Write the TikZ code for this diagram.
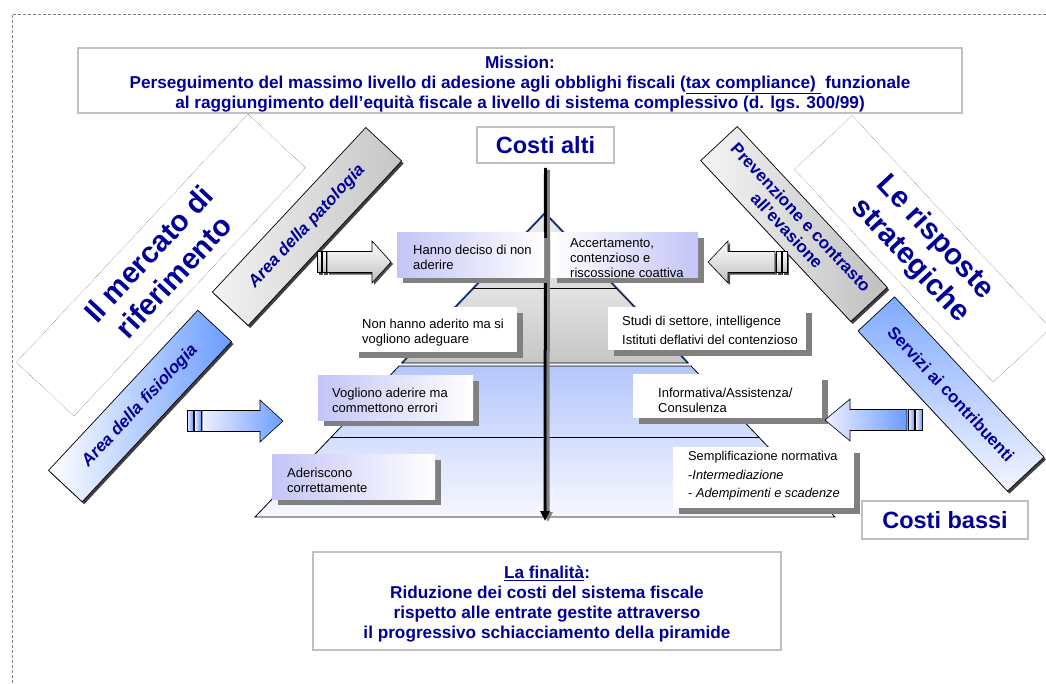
\documentclass[tikz,border=0pt]{standalone}
\usepackage{fontspec}
\setmainfont{Liberation Sans}
\usetikzlibrary{arrows.meta,shadows}

\definecolor{navy}{RGB}{0,0,153}
\definecolor{lav}{RGB}{196,196,248}
\definecolor{barblue}{RGB}{106,156,255}
\definecolor{framegray}{RGB}{192,192,192}
\definecolor{cardshade}{RGB}{128,128,128}
\definecolor{pyrblue}{RGB}{180,198,250}
\definecolor{edgeblue}{RGB}{110,140,215}

% block arrow with a striped tail:
% #1 tail x, #2 body start x, #3 head base x, #4 tip x, #5 centre y, #6 path style
\newcommand\blockarrow[6]{%
  \path[#6] (#2,#5-10.5) -- (#3,#5-10.5) -- (#3,#5-21) -- (#4,#5)
     -- (#3,#5+21) -- (#3,#5+10.5) -- (#2,#5+10.5) -- cycle;
  \path[#6] (#1,#5-10.5) rectangle ({#1+0.42*(#2-#1)},#5+10.5);
  \path[#6] ({#1+0.5*(#2-#1)},#5-10.5) rectangle ({#1+0.92*(#2-#1)},#5+10.5);
}

\begin{document}
\begin{tikzpicture}[x=1pt,y=-1pt,
  frame/.style={draw=framegray,line width=1.5,fill=white,inner sep=0},
  headline/.style={inner sep=0,text=navy,font=\bfseries\fontsize{17.2}{20}\selectfont,align=center},
  cost/.style={frame,text=navy,font=\bfseries\fontsize{23.5}{25}\selectfont},
  card/.style={inner sep=0,drop shadow={shadow xshift=6pt,shadow yshift=-6pt,fill=cardshade,opacity=1}},
  lavcard/.style={card,left color=lav,right color=white},
  whitecard/.style={card,fill=white},
  cardtext/.style={anchor=west,inner sep=0,align=left,font=\fontsize{13}{15}\selectfont},
  bar/.style={draw=black,line width=0.7,inner sep=0,text=navy,align=center,
     font=\bfseries\fontsize{17}{19}\selectfont,
     drop shadow={shadow xshift=2pt,shadow yshift=-2.5pt,fill=black!75,opacity=1}},
  dotbox/.style={draw=black!60,densely dotted,line width=0.5,inner sep=0,text=navy,
     align=center,font=\bfseries\fontsize{29.5}{34}\selectfont},
  pyrline/.style={draw=black,line width=0.8},
  axisline/.style={line width=3,-{Triangle[length=10,width=9]}},
  grayarrow/.style={draw=black,line width=0.6,top color=white,bottom color=gray!50},
  bluearrow/.style={draw=black,line width=0.6,left color=blue!6,right color=barblue},
  arrowshadow/.style={fill=black!70,shift={(2,2)}}
]
\useasboundingbox (0,0) rectangle (1046,683);

% page frame
\draw[gray,dash pattern=on 3pt off 2pt,line width=0.6] (12,683) -- (12,14) -- (1046,14);

% mission statement
\node[frame,minimum width=884,minimum height=65] (mission) at (520,80.5) {};
\node[headline] (missionT) at (520,84)
  {Mission:\\Perseguimento del massimo livello di adesione agli obblighi fiscali (\underline{tax compliance)\ }\ funzionale\\al raggiungimento dell’equità fiscale a livello di sistema complessivo (d. lgs. 300/99)};

% pyramid
\coordinate (apex) at (545,213);
\shade[top color=gray!14,bottom color=gray!28] (apex) -- (616.6,288) -- (473.4,288) -- cycle;
\shade[top color=gray!22,bottom color=gray!45] (473.4,288) -- (616.6,288) -- (688,363) -- (402,363) -- cycle;
\shade[top color=pyrblue,bottom color=blue!3] (399,366) -- (691,366) -- (835,517) -- (255,517) -- cycle;
\draw[edgeblue,line width=2.4] (402,363) -- (apex) -- (688,363);
\draw[pyrline] (402,363) -- (apex) -- (688,363) -- cycle;
\draw[pyrline] (473.4,288) -- (616.6,288);
\draw[pyrline] (399,366) -- (691,366) -- (835,517) -- (255,517) -- cycle;
\draw[pyrline] (331,437) -- (759,437);

% cost axis
\node[cost,minimum width=137,minimum height=36] (costialti) at (545.5,145) {Costi alti};
\coordinate (axbot) at (545,521);
\draw[axisline,gray] ([xshift=3pt,yshift=-6pt]costialti.south) -- ([xshift=3pt,yshift=-1pt]axbot);
\draw[axisline,black] ([yshift=-4pt]costialti.south) -- (axbot);

% behaviour cards (left) and responses (right)
\node[lavcard,minimum width=147,minimum height=45] (hanno) at (470.5,254.5) {};
\node[cardtext] (hannoT) at (413,257) {Hanno deciso di non\\aderire};

\node[card,left color=white,right color=lav,minimum width=147,minimum height=45] (accert) at (624.5,254.5) {};
\node[cardtext] (accertT) at (570,258) {Accertamento,\\contenzioso e\\riscossione coattiva};

\node[whitecard,minimum width=164,minimum height=45] (nonhanno) at (435,329.5) {};
\node[cardtext] (nonhannoT) at (362,333) {Non hanno aderito ma si\\vogliono adeguare};

\node[whitecard,minimum width=198,minimum height=43] (studi) at (707,328.5) {};
\node[cardtext,font=\fontsize{13}{19}\selectfont] (studiT) at (622,330.5) {Studi di settore, intelligence\\Istituti deflativi del contenzioso};

\node[lavcard,minimum width=155,minimum height=45] (vogliono) at (395.5,397.5) {};
\node[cardtext] (voglionoT) at (332,400) {Vogliono aderire ma\\commettono errori};

\node[whitecard,minimum width=189,minimum height=44] (inform) at (727.5,396) {};
\node[cardtext] (informT) at (658,400.5) {Informativa/Assistenza/\\Consulenza};

\node[lavcard,minimum width=163,minimum height=45] (aderiscono) at (353.5,476.5) {};
\node[cardtext] (aderisconoT) at (287,480) {Aderiscono\\correttamente};

\node[whitecard,minimum width=181,minimum height=61] (sempl) at (763.5,477.5) {};
\node[cardtext,font=\fontsize{12.8}{18.5}\selectfont] (semplT) at (688,476)
  {Semplificazione normativa\\-\textit{Intermediazione}\\- \textit{Adempimenti e scadenze}};

\node[cost,minimum width=166,minimum height=38] (costibassi) at (945,520) {Costi bassi};

% diagonal bands, left side
\node[dotbox,rotate=47,minimum width=339.5,minimum height=78.7] (mercato) at (161,265) {Il mercato di\\riferimento};
\node[bar,rotate=47,minimum width=225,minimum height=49,left color=gray!10,right color=gray!45] (patologia) at (307,226.5) {\itshape Area della patologia};
\node[bar,rotate=47,minimum width=219,minimum height=46,left color=white,right color=barblue] (fisiologia) at (140,406) {\itshape Area della fisiologia};

% diagonal bands, right side
\node[bar,rotate=-47,minimum width=220,minimum height=50,left color=gray!8,right color=gray!50] (prevenzione) at (794,224) {Prevenzione e contrasto\\all’evasione};
\node[dotbox,rotate=-47,minimum width=291,minimum height=79] (risposte) at (922.5,249) {Le risposte\\strategiche};
\node[bar,rotate=-47,minimum width=219,minimum height=50,top color=barblue!85,bottom color=blue!4] (servizi) at (951,394) {Servizi ai contribuenti};

% block arrows
\blockarrow{317}{327}{372}{391}{262}{arrowshadow}
\blockarrow{317}{327}{372}{391}{262}{grayarrow}
\blockarrow{787}{775}{728}{708}{262}{arrowshadow}
\blockarrow{787}{775}{728}{708}{262}{grayarrow}
\blockarrow{187}{202}{260}{283}{421}{bluearrow}
\blockarrow{922}{907}{850}{825}{420}{bluearrow}

% aim of the strategy
\node[frame,minimum width=468,minimum height=98] (finalita) at (547,601) {};
\node[headline] (finalitaT) at (547,604)
  {\underline{La finalità}:\\Riduzione dei costi del sistema fiscale\\rispetto alle entrate gestite attraverso\\il progressivo schiacciamento della piramide};
\end{tikzpicture}
\end{document}
